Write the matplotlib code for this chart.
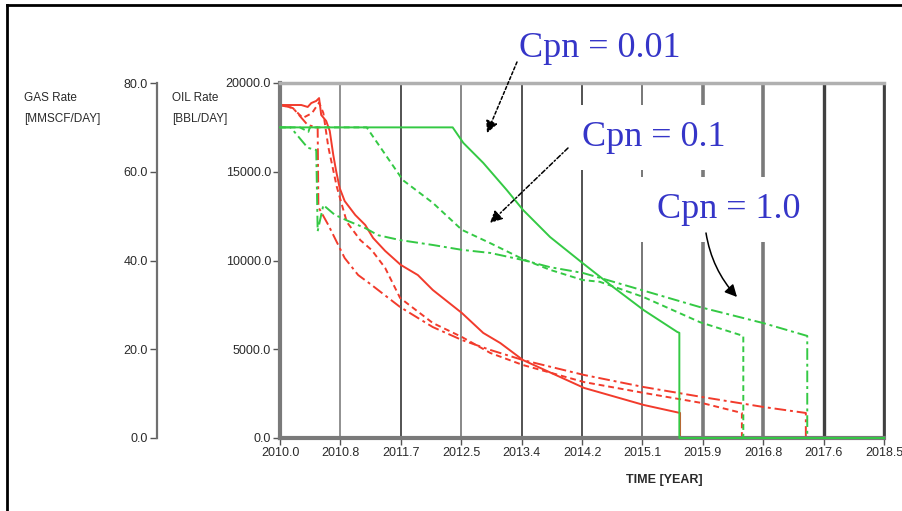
import matplotlib
matplotlib.use("Agg")
import matplotlib.pyplot as plt
from matplotlib.lines import Line2D

W, H = 902, 511

# time axis (years) and rate axes
x_ticks = [2010.0, 2010.85, 2011.7, 2012.55, 2013.4, 2014.25, 2015.1, 2015.95, 2016.8, 2017.65, 2018.5]
x_labels = ['2010.0', '2010.8', '2011.7', '2012.5', '2013.4', '2014.2', '2015.1',
            '2015.9', '2016.8', '2017.6', '2018.5']
oil_ticks = [0, 5000, 10000, 15000, 20000]
gas_ticks = [0, 20, 40, 60, 80]

# oil rate [BBL/DAY]
oil_t_001 = [2010.00, 2010.30, 2010.39, 2010.44, 2010.51, 2010.55, 2010.58, 2010.65, 2010.70,
             2010.75, 2010.79, 2010.84, 2010.91, 2011.06, 2011.20, 2011.31, 2011.48, 2011.70,
             2011.94, 2012.15, 2012.56, 2012.86, 2013.10, 2013.42, 2014.28, 2015.12, 2015.63, 2015.63]
oil_q_001 = [18760, 18760, 18650, 18870, 18990, 19150, 18200, 17860, 17300,
             15940, 15040, 14080, 13350, 12560, 12000, 11270, 10540, 9750,
             9180, 8340, 7040, 5920, 5350, 4390, 2820, 1860, 1410, 0]

oil_t_01 = [2010.00, 2010.18, 2010.32, 2010.45, 2010.55, 2010.61, 2010.68, 2010.80, 2010.94,
            2011.13, 2011.29, 2011.48, 2011.69, 2012.15, 2012.56, 2012.96, 2013.42, 2014.28,
            2015.12, 2015.94, 2016.50, 2016.50]
oil_q_01 = [18760, 18590, 18030, 18300, 18900, 18310, 16390, 14140, 12170,
            11150, 10590, 9580, 7890, 6480, 5690, 4790, 4110, 3150,
            2540, 1970, 1410, 0]

oil_t_1 = [2010.00, 2010.18, 2010.39, 2010.53, 2010.54, 2010.68, 2010.82, 2010.91, 2011.10,
           2011.27, 2011.69, 2012.15, 2012.56, 2012.96, 2013.42, 2014.28, 2015.12, 2015.94,
           2016.80, 2017.40, 2017.40]
oil_q_1 = [18760, 18600, 17630, 17500, 13010, 12000, 10870, 10140, 9180,
           8680, 7380, 6250, 5520, 4960, 4390, 3550, 2870, 2310,
           1750, 1410, 0]

# gas rate [MMSCF/DAY]
gas_t_001 = [2010.00, 2012.43, 2012.58, 2012.86, 2013.19, 2013.42, 2013.80, 2014.26, 2014.69,
             2015.12, 2015.59, 2015.62, 2015.62, 2018.50]
gas_q_001 = [70.0, 70.0, 66.5, 62.0, 55.9, 51.4, 45.3, 39.4, 34.0,
             28.8, 23.9, 23.7, 0.0, 0.0]

gas_t_01 = [2010.00, 2010.28, 2010.40, 2010.42, 2011.22, 2011.73, 2012.15, 2012.56, 2012.96,
            2013.42, 2013.80, 2014.26, 2014.50, 2015.11, 2015.91, 2016.52, 2016.52]
gas_q_01 = [70.0, 70.0, 69.0, 70.0, 70.0, 58.1, 53.0, 46.9, 43.9,
            40.3, 37.9, 35.6, 35.2, 31.8, 26.1, 23.0, 0.0]

gas_t_1 = [2010.00, 2010.15, 2010.39, 2010.51, 2010.53, 2010.61, 2010.77, 2010.96, 2011.20,
           2011.38, 2011.69, 2012.15, 2012.56, 2012.96, 2013.42, 2013.80, 2014.26, 2014.50,
           2015.91, 2016.80, 2017.42, 2017.42]
gas_q_1 = [70.0, 70.0, 65.4, 64.9, 46.6, 52.5, 50.3, 48.9, 47.3,
           45.7, 44.6, 43.5, 42.4, 41.7, 40.1, 38.5, 37.2, 36.1,
           29.5, 25.9, 23.0, 0.0]

RED = '#f23b2c'
GREEN = '#34c944'
BLUE = '#3535c8'
TXT = '#2a2a2a'
SOLID = '-'
DASHED = (0, (3, 2))
DASHDOT = (0, (6, 2, 1.5, 2))

plt.rcParams['font.family'] = ['Liberation Sans', 'DejaVu Sans']


def fx(px):
    return px / W


def fy(py):
    return 1 - py / H


fig = plt.figure(figsize=(W / 100, H / 100), dpi=100)
ax = fig.add_axes([fx(280), fy(438), fx(884) - fx(280), fy(83) - fy(438)])

ax.set_xlim(x_ticks[0], x_ticks[-1])
ax.set_ylim(oil_ticks[0], oil_ticks[-1])
ax.set_xticks(x_ticks)
ax.set_xticklabels(x_labels)
ax.set_yticks(oil_ticks)
ax.set_yticklabels(['%.1f' % v for v in oil_ticks])
ax.tick_params(axis='both', direction='out', length=5, width=1, colors='#555555',
               labelcolor=TXT, labelsize=9, pad=1.5)

# vertical grid, heavier toward the right
grid_lw = [1.2, 1.3, 1.3, 1.4, 1.3, 1.3, 1.4, 2.6, 2.6, 2.4, 2.4]
grid_col = ['#777777', '#888888', '#444444', '#888888', '#444444', '#444444', '#777777',
            '#7a7a7a', '#7a7a7a', '#404040', '#404040']
for t, lw, c in zip(x_ticks[1:], grid_lw[1:], grid_col[1:]):
    ax.axvline(t, color=c, lw=lw, zorder=1)

for side in ['left', 'bottom']:
    ax.spines[side].set_color('#7a7a7a')
    ax.spines[side].set_linewidth(3)
ax.spines['top'].set_color('#b0b0b0')
ax.spines['top'].set_linewidth(2.5)
ax.spines['right'].set_color('#404040')
ax.spines['right'].set_linewidth(2)

ax.plot(oil_t_001, oil_q_001, color=RED, lw=1.4, ls=SOLID, zorder=2)
ax.plot(oil_t_01, oil_q_01, color=RED, lw=1.4, ls=DASHED, zorder=2)
ax.plot(oil_t_1, oil_q_1, color=RED, lw=1.4, ls=DASHDOT, zorder=2)

# gas rate on its own scale, spine pushed out to the left
ax2 = ax.twinx()
ax2.set_ylim(gas_ticks[0], gas_ticks[-1])
ax2.set_yticks(gas_ticks)
ax2.set_yticklabels(['%.1f' % v for v in gas_ticks])
ax2.yaxis.set_ticks_position('left')
ax2.spines['left'].set_position(('outward', (280 - 157) * 72 / 100))
ax2.spines['left'].set_visible(True)
ax2.spines['left'].set_color('#707070')
ax2.spines['left'].set_linewidth(1.6)
for side in ['right', 'top', 'bottom']:
    ax2.spines[side].set_visible(False)
ax2.tick_params(axis='y', direction='out', length=5, width=1, colors='#555555',
                labelcolor=TXT, labelsize=9, pad=1.5)

ax2.plot(gas_t_001, gas_q_001, color=GREEN, lw=1.4, ls=SOLID, zorder=3, clip_on=False)
ax2.plot(gas_t_01, gas_q_01, color=GREEN, lw=1.4, ls=DASHED, zorder=3, clip_on=False)
ax2.plot(gas_t_1, gas_q_1, color=GREEN, lw=1.4, ls=DASHDOT, zorder=3, clip_on=False)

# axis captions
cap_kw = dict(fontsize=8.5, color=TXT, va='center')
fig.text(fx(24), fy(98), 'GAS Rate', **cap_kw)
fig.text(fx(24), fy(119), '[MMSCF/DAY]', **cap_kw)
fig.text(fx(172), fy(98), 'OIL Rate', **cap_kw)
fig.text(fx(172), fy(119), '[BBL/DAY]', **cap_kw)
fig.text(fx(664), fy(480), 'TIME [YEAR]', fontsize=9, color=TXT, ha='center',
         va='center', fontweight='bold')

# Cpn labels on white boxes that break the grid lines
label_kw = dict(transform=fig.transFigure, family=['Liberation Serif', 'DejaVu Serif'],
                fontsize=26, color=BLUE, ha='left', va='baseline')
ax.text(fx(519), fy(57), 'Cpn = 0.01', zorder=1.5, **label_kw)
ax.text(fx(582), fy(146), 'Cpn = 0.1', zorder=1.5,
        bbox=dict(boxstyle='square,pad=0.45', fc='white', ec='none'), **label_kw)
ax.text(fx(657), fy(218), 'Cpn = 1.0', zorder=1.5,
        bbox=dict(boxstyle='square,pad=0.45', fc='white', ec='none'), **label_kw)

arrow_kw = dict(xycoords='figure fraction', textcoords='figure fraction', zorder=6)
ax2.annotate('', xy=(fx(487), fy(133)), xytext=(fx(517), fy(62)),
             arrowprops=dict(arrowstyle='-|>', mutation_scale=18, lw=1.1, ls=(0, (2, 1.5)),
                             color='black', shrinkA=0, shrinkB=0), **arrow_kw)
ax2.annotate('', xy=(fx(490), fy(223)), xytext=(fx(568), fy(148)),
             arrowprops=dict(arrowstyle='-|>', mutation_scale=18, lw=1.1, ls=(0, (3, 1.5, 1, 1.5)),
                             color='black', shrinkA=0, shrinkB=0), **arrow_kw)
ax2.annotate('', xy=(fx(737), fy(297)), xytext=(fx(706), fy(233)),
             arrowprops=dict(arrowstyle='-|>', mutation_scale=18, lw=1.1, color='black',
                             connectionstyle='arc3,rad=0.15', shrinkA=0, shrinkB=0), **arrow_kw)

# outer frame (left and top edges)
fig.add_artist(Line2D([fx(7), fx(7)], [0, fy(5)], transform=fig.transFigure, color='black', lw=2))
fig.add_artist(Line2D([fx(7), 1], [fy(5), fy(5)], transform=fig.transFigure, color='black', lw=2))

fig.savefig('out.png', dpi=100, facecolor='white')
